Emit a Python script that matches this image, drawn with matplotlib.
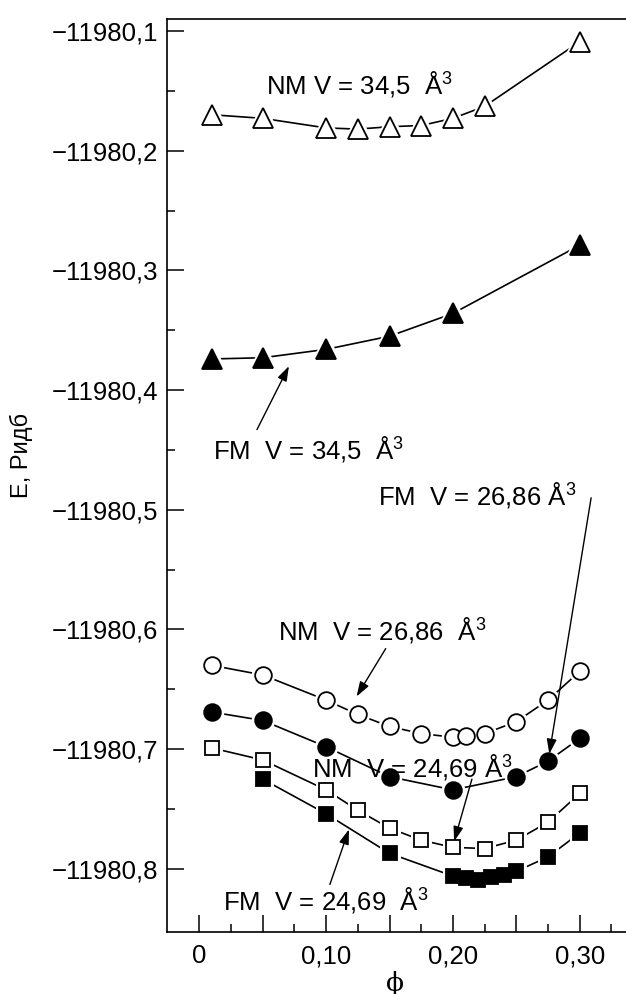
import matplotlib
matplotlib.use('Agg')
from matplotlib import pyplot as plt
from matplotlib.ticker import FixedLocator, MultipleLocator, FuncFormatter

plt.rcParams['font.family'] = ['Liberation Sans', 'DejaVu Sans']
plt.rcParams['mathtext.fontset'] = 'custom'
plt.rcParams['mathtext.rm'] = 'Liberation Sans'
plt.rcParams['mathtext.it'] = 'Liberation Sans:italic'
plt.rcParams['mathtext.bf'] = 'Liberation Sans:bold'

# data
phi_nm345 = [0.01, 0.05, 0.10, 0.125, 0.15, 0.175, 0.20, 0.225, 0.30]
e_nm345 = [-11980.170, -11980.173, -11980.181, -11980.182, -11980.180,
           -11980.179, -11980.173, -11980.163, -11980.109]

phi_fm345 = [0.01, 0.05, 0.10, 0.15, 0.20, 0.30]
e_fm345 = [-11980.374, -11980.373, -11980.366, -11980.355, -11980.336, -11980.279]

phi_nm2686 = [0.01, 0.05, 0.10, 0.125, 0.15, 0.175, 0.20, 0.21, 0.225, 0.25, 0.275, 0.30]
e_nm2686 = [-11980.630, -11980.638, -11980.659, -11980.671, -11980.681, -11980.687,
            -11980.690, -11980.689, -11980.687, -11980.677, -11980.659, -11980.635]

phi_fm2686 = [0.01, 0.05, 0.10, 0.15, 0.20, 0.25, 0.275, 0.30]
e_fm2686 = [-11980.669, -11980.676, -11980.698, -11980.723, -11980.734,
            -11980.723, -11980.710, -11980.691]

phi_nm2469 = [0.01, 0.05, 0.10, 0.125, 0.15, 0.175, 0.20, 0.225, 0.25, 0.275, 0.30]
e_nm2469 = [-11980.699, -11980.709, -11980.734, -11980.751, -11980.766, -11980.776,
            -11980.782, -11980.783, -11980.776, -11980.761, -11980.737]

phi_fm2469 = [0.05, 0.10, 0.15, 0.20, 0.21, 0.22, 0.23, 0.24, 0.25, 0.275, 0.30]
e_fm2469 = [-11980.725, -11980.754, -11980.787, -11980.806, -11980.808, -11980.809,
            -11980.807, -11980.805, -11980.802, -11980.790, -11980.770]

y_ticks = [-11980.1, -11980.2, -11980.3, -11980.4, -11980.5, -11980.6, -11980.7, -11980.8]
y_minor = [-11980.15, -11980.25, -11980.35, -11980.45, -11980.55, -11980.65, -11980.75]
x_minor = [0.025, 0.075, 0.125, 0.175, 0.225, 0.275, 0.325]

# (text, text pos, arrow tail, arrow head)
labels = [
    ("NM V = 34,5  Å$^3$", (0.053, -11980.152), None, None),
    ("FM  V = 34,5  Å$^3$", (0.011, -11980.457), (0.0455, -11980.433), (0.0707, -11980.380)),
    ("FM  V = 26,86 Å$^3$", (0.141, -11980.496), (0.309, -11980.490), (0.276, -11980.704)),
    ("NM  V = 26,86  Å$^3$", (0.062, -11980.608), (0.147, -11980.616), (0.124, -11980.656)),
    ("NM  V = 24,69 Å$^3$", (0.089, -11980.723), (0.215, -11980.725), (0.201, -11980.777)),
    ("FM  V = 24,69  Å$^3$", (0.019, -11980.834), (0.103, -11980.813), (0.118, -11980.767)),
]

fig = plt.figure(figsize=(6.26, 9.94), dpi=100)
ax = fig.add_axes([0.2673, 0.0624, 0.7327, 0.9185])

series = [
    (phi_nm345, e_nm345, '^', 'white', 14.5),
    (phi_fm345, e_fm345, '^', 'black', 14.5),
    (phi_nm2686, e_nm2686, 'o', 'white', 12),
    (phi_fm2686, e_fm2686, 'o', 'black', 12),
    (phi_nm2469, e_nm2469, 's', 'white', 10.5),
    (phi_fm2469, e_fm2469, 's', 'black', 10.5),
]
for x, y, m, fc, ms in series:
    ax.plot(x, y, '-', color='black', lw=1.2, zorder=2)
    # white halo so the lines stop short of the markers
    ax.plot(x, y, m, ms=ms, mfc='white', mec='white', mew=5, ls='none', zorder=3)
    ax.plot(x, y, m, ms=ms, mfc=fc, mec='black', mew=1.3, ls='none', zorder=4)

for txt, pos, tail, head in labels:
    ax.text(pos[0], pos[1], txt, fontsize=18.5, ha='left', va='baseline', zorder=6)
    if tail is not None:
        ax.annotate('', xy=head, xytext=tail,
                    arrowprops=dict(arrowstyle='-|>,head_length=0.6,head_width=0.2',
                                    color='black', lw=1.0, shrinkA=0, shrinkB=0,
                                    mutation_scale=15), zorder=6)

ax.set_xlim(-0.0252, 0.3365)
ax.set_ylim(-11980.8527, -11980.09)

ax.yaxis.set_major_locator(FixedLocator(y_ticks))
ax.yaxis.set_minor_locator(FixedLocator(y_minor))
ax.yaxis.set_major_formatter(FuncFormatter(
    lambda v, p: f"{v:.1f}".replace('.', ',').replace('-', '\u2212')))
ax.xaxis.set_major_locator(MultipleLocator(0.05))
ax.xaxis.set_minor_locator(FixedLocator(x_minor))


def xfmt(v, p):
    k = round(v / 0.05)
    if k % 2:
        return ''
    if k == 0:
        return '0'
    return f"{k * 0.05:.2f}".replace('.', ',')


ax.xaxis.set_major_formatter(FuncFormatter(xfmt))

ax.tick_params(which='both', direction='in', width=1.1)
ax.tick_params(which='major', length=12.5, labelsize=18.5)
ax.tick_params(axis='y', which='major', pad=6.5)
ax.tick_params(axis='x', which='major', pad=9)
ax.tick_params(which='minor', length=6)
ax.spines['right'].set_visible(False)
for s in ['left', 'top', 'bottom']:
    ax.spines[s].set_linewidth(1.2)

fig.text(21 / 626, 1 - 455 / 994, "E, Ридб", rotation=90, fontsize=17,
         ha='center', va='center')
fig.text(395 / 626, 1 - 983 / 994, "\u03d5", fontsize=19, family='DejaVu Serif',
         ha='center', va='center')

fig.savefig('out.png', dpi=100)
